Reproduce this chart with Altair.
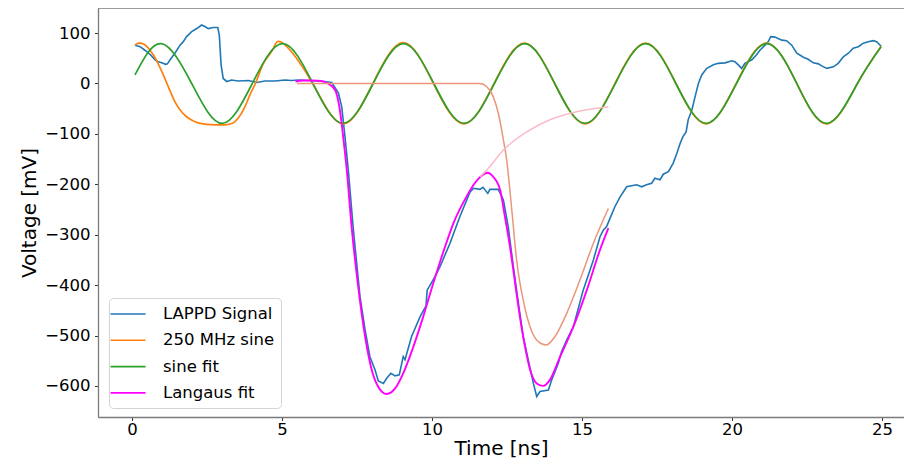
import altair as alt
import pandas as pd

# ---- LAPPD signal (blue) ----
sig_t = [0.1, 0.27, 0.43, 0.6, 0.77, 0.88, 0.99, 1.12, 1.18, 1.27, 1.43, 1.6, 1.71, 1.82, 1.99,
         2.16, 2.32, 2.43, 2.54, 2.71, 2.86, 2.91, 2.97, 3.04, 3.16, 3.32, 3.54, 3.88, 4.16,
         4.43, 4.77, 5.1, 5.32, 5.54, 5.9, 6.27, 6.66, 6.88, 6.99, 7.1, 7.21, 7.38, 7.49, 7.6,
         7.77, 7.93, 8.1, 8.21, 8.38, 8.49, 8.63, 8.77, 8.91, 9.04, 9.1, 9.32, 9.6, 9.8, 9.84,
         10.1, 10.27, 10.6, 10.93, 11.27, 11.38, 11.6, 11.7, 11.86, 11.93, 12.21, 12.38, 12.54,
         12.71, 12.88, 13.04, 13.21, 13.38, 13.49, 13.6, 13.88, 13.99, 14.21, 14.32, 14.49,
         14.71, 15.04, 15.38, 15.6, 15.71, 15.82, 15.93, 16.1, 16.27, 16.49, 16.82, 16.99,
         17.15, 17.32, 17.43, 17.6, 17.71, 17.88, 18.04, 18.16, 18.27, 18.36, 18.47, 18.54,
         18.66, 18.77, 18.88, 18.99, 19.16, 19.38, 19.54, 19.77, 19.99, 20.1, 20.21, 20.32,
         20.43, 20.66, 20.82, 20.93, 21.1, 21.21, 21.29, 21.43, 21.66, 21.82, 21.99, 22.16,
         22.38, 22.54, 22.71, 22.88, 22.99, 23.16, 23.38, 23.54, 23.71, 23.88, 24.04, 24.21,
         24.38, 24.54, 24.71, 24.82, 24.97]
sig_v = [76, 73, 66, 58, 47, 43, 41, 38, 39, 47, 60, 76, 83, 93, 103,
         109, 116, 113, 109, 111, 111, 96, 37, 10, 4, 7, 5, 6, 2,
         5, 5, 7, 6, 7, 6, 5, 2, -19, -46, -106, -172, -291, -357, -423,
         -489, -542, -568, -590, -595, -585, -575, -580, -578, -542, -548, -502, -463, -441, -410,
         -383, -363, -317, -264, -215, -208, -210, -206, -218, -210, -210, -231, -284,
         -363, -436, -502, -549, -595, -621, -611, -608, -588, -555, -532, -509,
         -483, -410, -350, -304, -291, -284, -268, -244, -225, -205, -201, -205,
         -201, -198, -188, -191, -180, -175, -158, -139, -119, -106, -96, -72,
         -53, -26, 0, 17, 30, 37, 40, 41, 45, 43, 37, 30,
         40, 47, 57, 66, 76, 83, 93, 92, 86, 85, 76, 60,
         52, 48, 41, 39, 35, 30, 33, 40, 53, 60, 70, 73,
         80, 83, 85, 83, 74]

# ---- 250 MHz sine (orange) ----
sin_t = [0.1, 0.22, 0.4, 0.55, 0.72, 0.9, 1.08, 1.25, 1.42, 1.6, 1.8, 2.0, 2.2, 2.5, 2.8, 3.1,
         3.35, 3.55, 3.75, 3.95, 4.15, 4.4, 4.7, 5.03, 6.02, 7.03, 8.03, 9.04, 10.05, 11.06,
         12.07, 13.08, 14.09, 15.1, 16.1, 17.12, 18.13, 19.13, 20.14, 21.15, 22.16, 23.17,
         24.18, 24.97]
sin_v = [76, 80, 78, 70, 56, 36, 12, -12, -35, -52, -65, -73, -78, -81, -82, -82,
         -79, -68, -48, -20, 5, 42, 68, 80, 0, -80, 0, 81, 0, -80,
         0, 80, 0, -80, 0, 80, 0, -80, 0, 80, 0, -80,
         0, 74]

# ---- sine fit (green) ----
fit_t = [0.1, 0.98, 1.99, 3.0, 4.01, 5.02, 6.03, 7.03, 8.04, 9.05, 10.06, 11.07, 12.08, 13.09,
         14.09, 15.1, 16.11, 17.12, 18.13, 19.14, 20.15, 21.16, 22.16, 23.17, 24.18, 24.97]
fit_v = [17, 79, 0, -79, 0, 79, 0, -79, 0, 79, 0, -79, 0, 79,
         0, -79, 0, 79, 0, -79, 0, 79, 0, -79, 0, 73]

# ---- Langaus fit (magenta) ----
lg_t = [5.45, 5.7, 6.0, 6.3, 6.5, 6.77, 6.93, 7.04, 7.16, 7.32, 7.54, 7.77, 7.99, 8.21, 8.49,
        8.77, 9.04, 9.38, 9.71, 10.05, 10.4, 10.75, 11.1, 11.4, 11.65, 11.85, 12.04, 12.27,
        12.43, 12.6, 12.77, 12.93, 13.1, 13.27, 13.49, 13.71, 13.93, 14.27, 14.71, 15.16,
        15.6, 15.88]
lg_v = [4, 6, 6, 5, 1, -13, -53, -106, -172, -284, -403, -502, -568, -602, -616,
        -605, -575, -522, -462, -395, -330, -272, -230, -200, -183, -177, -185, -211,
        -264, -324, -396, -463, -522, -568, -595, -600, -588, -542, -483, -410,
        -330, -287]

# ---- faint extra curves (not in legend) ----
salmon_t = [5.5, 11.6, 11.82, 12.04, 12.21, 12.38, 12.49, 12.66, 12.82, 13.04, 13.27, 13.54,
            13.8, 14.1, 14.49, 14.93, 15.38, 15.88]
salmon_v = [0, 0, -6, -26, -59, -112, -152, -251, -350, -430, -483, -512,
            -519, -502, -456, -390, -317, -248]
pink_t = [11.6, 11.85, 12.38, 13.16, 13.93, 14.82, 15.88]
pink_v = [-185, -170, -132, -96, -72, -56, -46]

names = ["LAPPD Signal", "250 MHz sine", "sine fit", "Langaus fit"]
colors = ["#1f77b4", "#ff7f0e", "#2ca02c", "#ff00ff"]

x_lim = [-1.133, 25.733]
y_lim = [-661.7, 149.8]


def frame(t, v, name):
    return pd.DataFrame({"t": t, "v": v, "series": name})


xs = alt.Scale(domain=x_lim, nice=False, zero=False)
ys = alt.Scale(domain=y_lim, nice=False, zero=False)

x_axis = alt.Axis(values=[0, 5, 10, 15, 20, 25], format="d", title="Time [ns]",
                  grid=False, tickSize=3.5, labelPadding=1, titlePadding=0,
                  domainColor="#7a7a7a", domainWidth=1.3, tickColor="#333")
y_axis = alt.Axis(values=[-600, -500, -400, -300, -200, -100, 0, 100], format="d",
                  title="Voltage [mV]", grid=False, tickSize=3.5, labelPadding=4.5,
                  titlePadding=5, domainColor="#7a7a7a", domainWidth=1.3, tickColor="#333")

color = alt.Color("series:N", scale=alt.Scale(domain=names, range=colors),
                  legend=alt.Legend(title=None, orient="none", legendX=11, legendY=290,
                                    symbolType="M-1.65,0H2.35", symbolSize=306,
                                    symbolStrokeWidth=1.6, labelFontSize=16.5,
                                    labelFont="DejaVu Sans", labelColor="black",
                                    labelOffset=28, rowPadding=7.3, padding=6,
                                    strokeColor="#d4d4d4", fillColor="white",
                                    cornerRadius=4))


def line(t, v, name, interp, width):
    return alt.Chart(frame(t, v, name)).mark_line(interpolate=interp, strokeWidth=width).encode(
        x=alt.X("t:Q", scale=xs, axis=x_axis),
        y=alt.Y("v:Q", scale=ys, axis=y_axis),
        color=color,
    )


blue = line(sig_t, sig_v, names[0], "linear", 1.6)
orange = line(sin_t, sin_v, names[1], "natural", 1.7)
green = line(fit_t, fit_v, names[2], "natural", 1.7)
magenta = line(lg_t, lg_v, names[3], "monotone", 1.9)

salmon = alt.Chart(frame(salmon_t, salmon_v, "extra1")).mark_line(
    interpolate="monotone", strokeWidth=1.5, color="#e9967a").encode(
    x=alt.X("t:Q", scale=xs, axis=x_axis), y=alt.Y("v:Q", scale=ys, axis=y_axis))
pink = alt.Chart(frame(pink_t, pink_v, "extra2")).mark_line(
    interpolate="monotone", strokeWidth=1.5, color="#f9bcc8").encode(
    x=alt.X("t:Q", scale=xs, axis=x_axis), y=alt.Y("v:Q", scale=ys, axis=y_axis))

# top spine of the frame, along the upper y limit
top_spine = alt.Chart(pd.DataFrame({"a": [0]})).mark_rule(
    color="#7a7a7a", strokeWidth=1.3).encode(
    x=alt.datum(x_lim[0], scale=xs), x2=alt.datum(x_lim[1]),
    y=alt.datum(y_lim[1], scale=ys))

chart = alt.layer(blue, orange, green, magenta, salmon, pink, top_spine).properties(
    width=806, height=409,
    autosize=alt.AutoSizeParams(type="none"),
    padding={"left": 90, "top": 0, "right": 0, "bottom": 41},
).configure(font="DejaVu Sans").configure_view(stroke=None).configure_axis(
    labelFont="DejaVu Sans", labelFontSize=16.5, labelColor="black",
    titleFont="DejaVu Sans", titleFontSize=20, titleFontWeight="normal", titleColor="black",
)

chart.save("out.html", embed_options={"renderer": "svg", "actions": False})
